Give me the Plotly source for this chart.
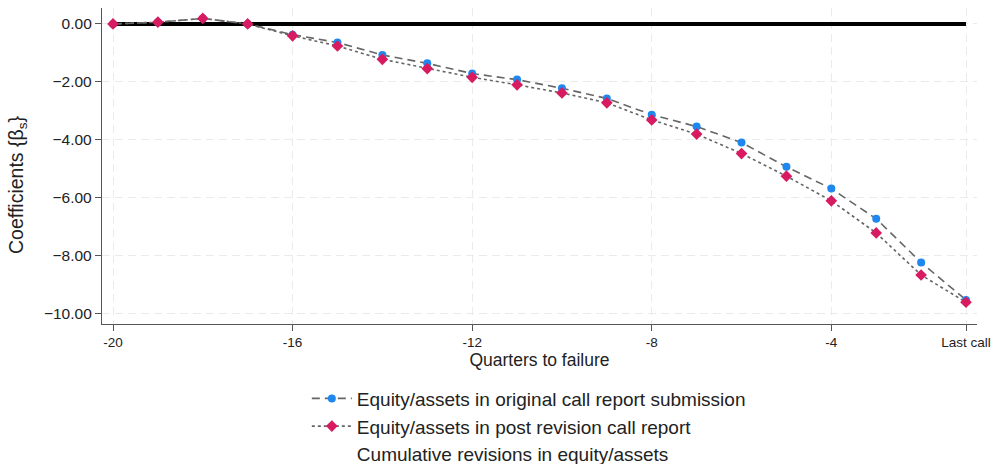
import plotly.graph_objects as go

# Quarters relative to failure; -1 is the last call report before failure
quarters = list(range(-20, 0))
tick_vals = [-20, -16, -12, -8, -4, -1]
tick_text = ["-20", "-16", "-12", "-8", "-4", "Last call"]
y_ticks = [0, -2, -4, -6, -8, -10]

# Event-study coefficients on equity/assets
original = [0.00, 0.06, 0.19, 0.00, -0.37, -0.64, -1.07, -1.36, -1.71, -1.92,
            -2.22, -2.57, -3.13, -3.54, -4.09, -4.93, -5.68, -6.72, -8.23, -9.52]
revised = [0.00, 0.06, 0.19, 0.00, -0.41, -0.76, -1.22, -1.54, -1.84, -2.10,
           -2.38, -2.72, -3.31, -3.80, -4.47, -5.25, -6.10, -7.21, -8.66, -9.60]
revisions = [r - o for r, o in zip(revised, original)]
baseline = [0.0] * len(quarters)

font_family = "Liberation Sans, Arial, Helvetica, sans-serif"

fig = go.Figure()

# Zero reference line across the event window
fig.add_trace(go.Scatter(
    x=quarters, y=baseline, mode="lines", showlegend=False,
    line=dict(color="black", width=4), hoverinfo="skip",
))
fig.add_trace(go.Scatter(
    x=quarters, y=original, mode="lines+markers",
    name="Equity/assets in original call report submission",
    line=dict(color="#666666", width=1.6, dash="8px,5px"),
    marker=dict(symbol="circle", size=8, color="#1E88F0"),
))
fig.add_trace(go.Scatter(
    x=quarters, y=revised, mode="lines+markers",
    name="Equity/assets in post revision call report",
    line=dict(color="#666666", width=1.6, dash="3px,3px"),
    marker=dict(symbol="diamond", size=9, color="#D81B60"),
))
# Cumulative revisions: listed in the legend, not drawn
fig.add_trace(go.Scatter(
    x=quarters, y=revisions, mode="lines",
    name="Cumulative revisions in equity/assets",
    line=dict(color="rgba(0,0,0,0)", width=0),
    hoverinfo="skip",
))

# Vertical axis title
fig.add_annotation(
    text="Coefficients {β<sub>s</sub>}", textangle=-90,
    xref="paper", yref="paper", x=-0.096, y=0.44,
    xanchor="center", yanchor="middle", showarrow=False,
    font=dict(size=19.5, color="#222222"),
)

fig.update_layout(
    width=993, height=464,
    margin=dict(l=102, r=16, t=8, b=140, autoexpand=False),
    paper_bgcolor="white", plot_bgcolor="white",
    font=dict(family=font_family, color="#222222"),
    showlegend=True,
    legend=dict(
        xref="container", yref="container",
        x=0.309, y=0.182, xanchor="left", yanchor="top",
        font=dict(size=19, color="#222222"),
        tracegroupgap=0, itemwidth=40,
        bgcolor="rgba(0,0,0,0)",
    ),
    xaxis=dict(
        range=[-20.245, -0.755],
        tickvals=tick_vals, ticktext=tick_text,
        tickfont=dict(size=13.5),
        showgrid=True, gridcolor="#EBEBEB", griddash="8px,5px", gridwidth=1,
        showline=True, linecolor="#555555", linewidth=1.3,
        ticks="outside", ticklen=6, tickcolor="#555555",
        zeroline=False,
        title=dict(text="Quarters to failure", font=dict(size=17.5), standoff=2),
    ),
    yaxis=dict(
        range=[-10.35, 0.55],
        tickvals=y_ticks, tickformat=".2f",
        tickfont=dict(size=15.5),
        showgrid=True, gridcolor="#EBEBEB", griddash="8px,5px", gridwidth=1,
        showline=True, linecolor="#555555", linewidth=1.3,
        ticks="outside", ticklen=6, tickcolor="#555555",
        zeroline=False,
    ),
)

fig.write_html("out.html")
